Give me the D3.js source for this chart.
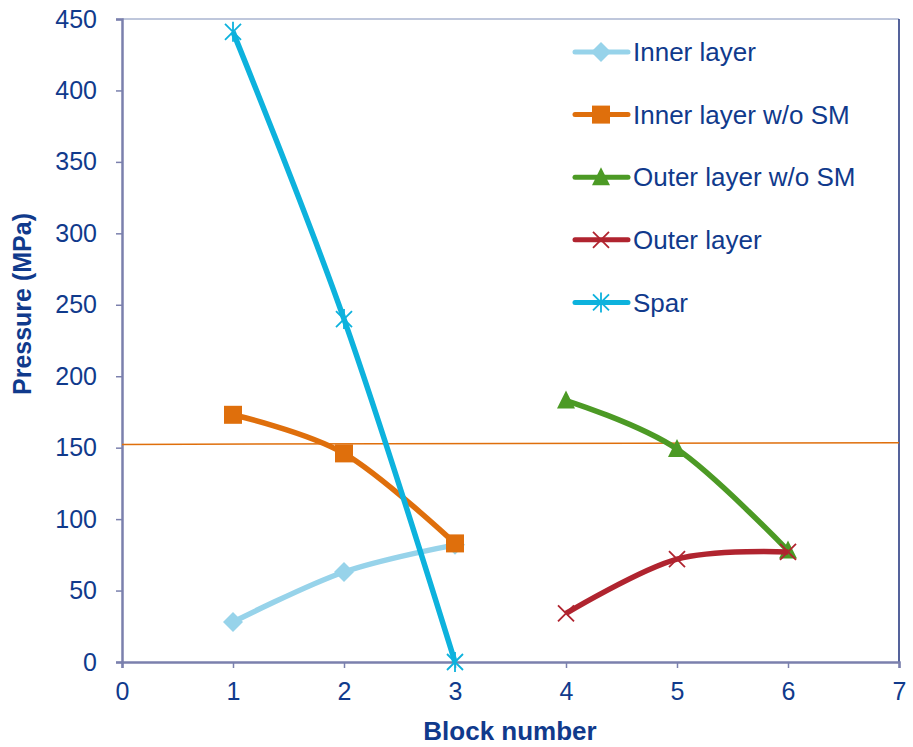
<!DOCTYPE html>
<html>
<head>
<meta charset="utf-8">
<script src="https://cdn.jsdelivr.net/npm/d3@7"></script>
<style>
  body { margin: 0; background: #fff; }
  text { font-family: "Liberation Sans", Arial, sans-serif; }
</style>
</head>
<body>
<svg id="chart" width="913" height="747"></svg>
<script>
// data
const innerLayer = [[1, 28], [2, 63], [3, 82]];
const innerNoSM = [[1, 173], [2, 146], [3, 83]];
const outerNoSM = [[4, 183], [5, 149], [6, 78]];
const outerLayer = [[4, 34], [5, 72], [6, 77]];
const spar = [[1, 441], [2, 240], [3, 0]];
const refLine = [[0, 152.3], [7, 153.5]];
const xTicks = [0, 1, 2, 3, 4, 5, 6, 7];
const yTicks = [0, 50, 100, 150, 200, 250, 300, 350, 400, 450];

const series = [
    { name: "Inner layer", data: innerLayer, color: "#97d3ea", marker: "diamond" },
    { name: "Inner layer w/o SM", data: innerNoSM, color: "#df6f0c", marker: "square" },
    { name: "Outer layer w/o SM", data: outerNoSM, color: "#4c9a25", marker: "triangle" },
    { name: "Outer layer", data: outerLayer, color: "#b0242f", marker: "x" },
    { name: "Spar", data: spar, color: "#0db2dd", marker: "star" }
];

const textColor = "#103a8c";
const svg = d3.select("#chart");

const x = d3.scaleLinear().domain([0, 7]).range([122, 899]);
const y = d3.scaleLinear().domain([0, 450]).range([662, 19]);

// frame
svg.append("line").attr("x1", x(0)).attr("x2", x(7)).attr("y1", y(450)).attr("y2", y(450))
    .attr("stroke", "#7f8fb8").attr("stroke-width", 1);
svg.append("line").attr("x1", x(7)).attr("x2", x(7)).attr("y1", y(450)).attr("y2", y(0))
    .attr("stroke", "#1c2f7a").attr("stroke-width", 1.5);

// axes
const yAxis = svg.append("g")
    .attr("transform", `translate(${x(0)},0)`)
    .call(d3.axisLeft(y).tickValues(yTicks).tickSize(6).tickPadding(19));
const xAxis = svg.append("g")
    .attr("transform", `translate(0,${y(0)})`)
    .call(d3.axisBottom(x).tickValues(xTicks).tickFormat(d3.format("d")).tickSize(6).tickPadding(14));

[xAxis, yAxis].forEach(a => {
    a.select(".domain").attr("stroke", "#7b80ad").attr("stroke-width", 2.5);
    a.selectAll(".tick line").attr("stroke", "#7b80ad").attr("stroke-width", 1.5);
    a.selectAll(".tick text").attr("fill", textColor).style("font-size", "25px");
});
xAxis.selectAll(".tick text").attr("dy", "0.71em");

svg.append("text")
    .attr("x", 510).attr("y", 740)
    .attr("text-anchor", "middle")
    .attr("fill", textColor).style("font-size", "26px").style("font-weight", "bold")
    .text("Block number");
svg.append("text")
    .attr("transform", `translate(31,304) rotate(-90)`)
    .attr("text-anchor", "middle")
    .attr("fill", textColor).style("font-size", "25px").style("font-weight", "bold")
    .text("Pressure (MPa)");

// thin reference line
svg.append("path")
    .datum(refLine)
    .attr("d", d3.line().x(d => x(d[0])).y(d => y(d[1])))
    .attr("fill", "none").attr("stroke", "#df6f0c").attr("stroke-width", 1.5);

const line = d3.line()
    .x(d => x(d[0])).y(d => y(d[1]))
    .curve(d3.curveCardinal.tension(0));

function drawMarker(g, type, color, cx, cy) {
    if (type === "diamond") {
        g.append("path").attr("d", `M${cx},${cy - 10}L${cx + 10},${cy}L${cx},${cy + 10}L${cx - 10},${cy}Z`)
            .attr("fill", color);
    } else if (type === "square") {
        g.append("rect").attr("x", cx - 9).attr("y", cy - 9).attr("width", 18).attr("height", 18)
            .attr("fill", color);
    } else if (type === "triangle") {
        g.append("path").attr("d", `M${cx},${cy - 10}L${cx + 9},${cy + 8}L${cx - 9},${cy + 8}Z`)
            .attr("fill", color);
    } else if (type === "x") {
        g.append("path").attr("d", `M${cx - 8},${cy - 8}L${cx + 8},${cy + 8}M${cx - 8},${cy + 8}L${cx + 8},${cy - 8}`)
            .attr("stroke", color).attr("stroke-width", 1.8).attr("fill", "none");
    } else if (type === "star") {
        g.append("path").attr("d", `M${cx - 8},${cy - 8}L${cx + 8},${cy + 8}M${cx - 8},${cy + 8}L${cx + 8},${cy - 8}M${cx},${cy - 10}L${cx},${cy + 10}`)
            .attr("stroke", color).attr("stroke-width", 1.8).attr("fill", "none");
    }
}

series.forEach(s => {
    const g = svg.append("g");
    g.append("path").datum(s.data)
        .attr("d", line)
        .attr("fill", "none").attr("stroke", s.color).attr("stroke-width", 5.5)
        .attr("stroke-linejoin", "round");
    s.data.forEach(d => drawMarker(g, s.marker, s.color, x(d[0]), y(d[1])));
});

// legend
const legend = svg.append("g");
series.forEach((s, i) => {
    const ly = 52 + i * 62.6;
    legend.append("line").attr("x1", 575).attr("x2", 628).attr("y1", ly).attr("y2", ly)
        .attr("stroke", s.color).attr("stroke-width", 5).attr("stroke-linecap", "round");
    drawMarker(legend, s.marker, s.color, 601, ly);
    legend.append("text").attr("x", 633).attr("y", ly).attr("dy", "0.35em")
        .attr("fill", textColor).style("font-size", "26px")
        .text(s.name);
});
</script>
</body>
</html>
